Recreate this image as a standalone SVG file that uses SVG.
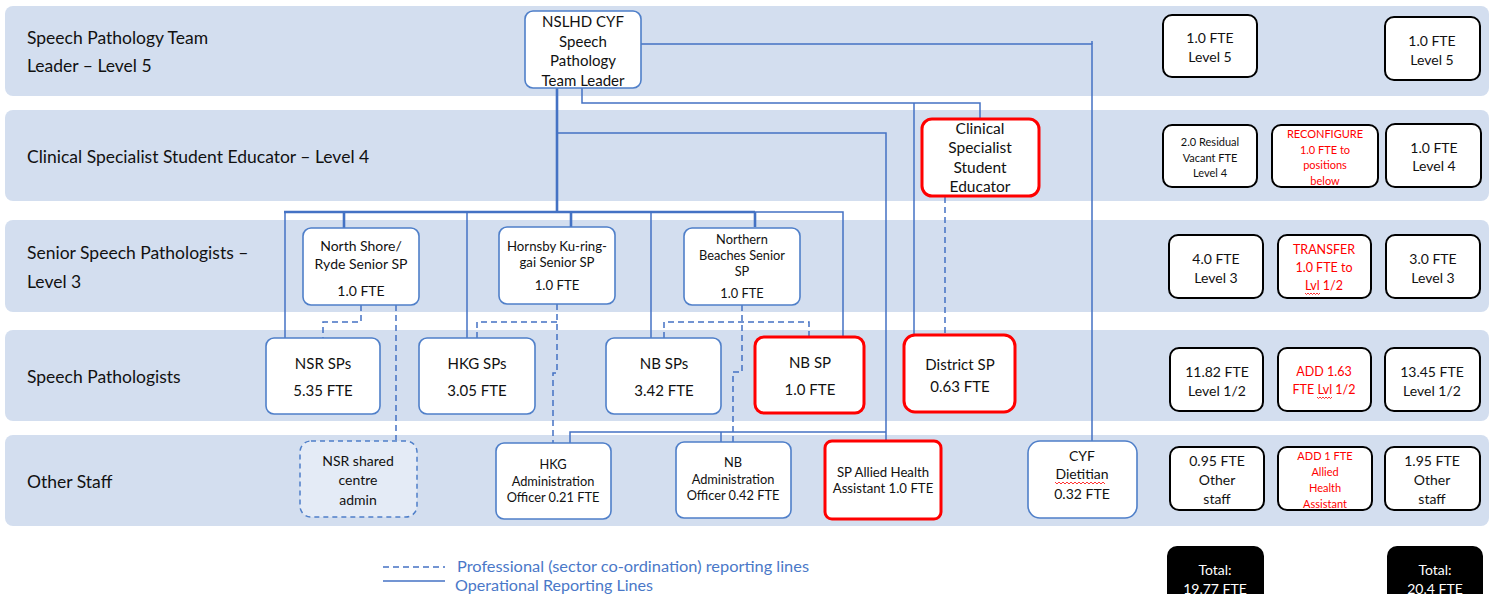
<svg xmlns="http://www.w3.org/2000/svg" width="1491" height="594" viewBox="0 0 1491 594">
<defs>
<style>
text{font-family:Lato,"Liberation Sans",sans-serif;fill:#111;dominant-baseline:central}
.band{fill:#D3DEEF}
.lbl{font-size:17.5px}
.c{text-anchor:middle}
.node{fill:#fff;stroke:#4F7FC9;stroke-width:1.6}
.red{fill:#fff;stroke:#FF0000;stroke-width:3}
.fte{fill:#fff;stroke:#000;stroke-width:2}
.tot{fill:#000}
.wt{fill:#fff}
.rt{fill:#FF0000}
.op{fill:none;stroke:#4472C4;stroke-width:1.5}
.opt{fill:none;stroke:#4472C4;stroke-width:2.6}
.pr{fill:none;stroke:#4472C4;stroke-width:1.5;stroke-dasharray:6 4}
.wavy{fill:none;stroke:#FF0000;stroke-width:0.8}
.leg{fill:#4A78C8;font-size:15.5px}
</style>
</defs>

<g id="bands">
<rect class="band" x="5" y="6" width="1484" height="90" rx="8"/>
<rect class="band" x="5" y="110" width="1484" height="91" rx="8"/>
<rect class="band" x="5" y="220" width="1484" height="92" rx="8"/>
<rect class="band" x="5" y="330" width="1484" height="91" rx="8"/>
<rect class="band" x="5" y="435" width="1484" height="91" rx="8"/>
<text class="lbl" x="27" y="37">Speech Pathology Team</text>
<text class="lbl" x="27" y="65">Leader – Level 5</text>
<text class="lbl" x="27" y="156">Clinical Specialist Student Educator – Level 4</text>
<text class="lbl" x="27" y="252">Senior Speech Pathologists –</text>
<text class="lbl" x="27" y="281">Level 3</text>
<text class="lbl" x="27" y="376">Speech Pathologists</text>
<text class="lbl" x="27" y="481">Other Staff</text>
</g>

<g id="connectors">
<path class="opt" d="M557 88 V212"/>
<path class="opt" d="M284 212 H755"/>
<path class="opt" d="M344 212 V228"/>
<path class="opt" d="M571 212 V227"/>
<path class="opt" d="M755 212 V227"/>
<path class="op" d="M755 212 H843 V336"/>
<path class="op" d="M285 211 V338"/>
<path class="op" d="M467 212 V338"/>
<path class="op" d="M651 212 V338"/>
<path class="op" d="M641 44 H1092 V441"/>
<path class="op" d="M1092 41 V44"/>
<path class="op" d="M582 88 V103 H980 V119"/>
<path class="op" d="M914 103 V335"/>
<path class="op" d="M557 133 H886 V441"/>
<path class="op" d="M886 432 H570 V443"/>
<path class="op" d="M721 432 V442"/>
<path class="pr" d="M361 305 V322 H323 V338"/>
<path class="pr" d="M396 305 V440"/>
<path class="pr" d="M557 304 V373 H553 V443"/>
<path class="pr" d="M557 322 H477 V338"/>
<path class="pr" d="M742 305 V372 H733 V442"/>
<path class="pr" d="M664 338 V322 H809 V336"/>
<path class="pr" d="M945 197 V335"/>
</g>

<g id="n-teamleader">
<rect class="node" x="525" y="11" width="116" height="77" rx="8"/>
<text class="c" x="583" y="21" font-size="15">NSLHD CYF</text>
<text class="c" x="583" y="41" font-size="15">Speech</text>
<text class="c" x="583" y="60" font-size="15">Pathology</text>
<text class="c" x="583" y="80" font-size="15">Team Leader</text>
</g>

<g id="n-clinical">
<rect class="red" x="922" y="119" width="117" height="77" rx="10"/>
<text class="c" x="980" y="128" font-size="15.5">Clinical</text>
<text class="c" x="980" y="147" font-size="15.5">Specialist</text>
<text class="c" x="980" y="167" font-size="15.5">Student</text>
<text class="c" x="980" y="186" font-size="15.5">Educator</text>
</g>

<g id="n-nsr-senior">
<rect class="node" x="303" y="228" width="116" height="77" rx="8"/>
<text class="c" x="361" y="245" font-size="14">North Shore/</text>
<text class="c" x="361" y="263" font-size="14">Ryde Senior SP</text>
<text class="c" x="361" y="290" font-size="14">1.0 FTE</text>
</g>

<g id="n-hkg-senior">
<rect class="node" x="499" y="227" width="116" height="77" rx="8"/>
<text class="c" x="557" y="246" font-size="13.2">Hornsby Ku-ring-</text>
<text class="c" x="557" y="262" font-size="13.2">gai Senior SP</text>
<text class="c" x="557" y="285" font-size="13.2">1.0 FTE</text>
</g>

<g id="n-nb-senior">
<rect class="node" x="684" y="228" width="116" height="77" rx="8"/>
<text class="c" x="742" y="239" font-size="12.8">Northern</text>
<text class="c" x="742" y="255" font-size="12.8">Beaches Senior</text>
<text class="c" x="742" y="271" font-size="12.8">SP</text>
<text class="c" x="742" y="293" font-size="12.8">1.0 FTE</text>
</g>

<g id="n-nsr-sps">
<rect class="node" x="266" y="338" width="114" height="76" rx="8"/>
<text class="c" x="323" y="363" font-size="15">NSR SPs</text>
<text class="c" x="323" y="390" font-size="15">5.35 FTE</text>
</g>

<g id="n-hkg-sps">
<rect class="node" x="419" y="338" width="116" height="76" rx="8"/>
<text class="c" x="477" y="363" font-size="15">HKG SPs</text>
<text class="c" x="477" y="390" font-size="15">3.05 FTE</text>
</g>

<g id="n-nb-sps">
<rect class="node" x="606" y="338" width="115" height="76" rx="8"/>
<text class="c" x="664" y="363" font-size="15">NB SPs</text>
<text class="c" x="664" y="390" font-size="15">3.42 FTE</text>
</g>

<g id="n-nb-sp">
<rect class="red" x="755" y="337" width="109" height="76" rx="9"/>
<text class="c" x="810" y="362" font-size="15">NB SP</text>
<text class="c" x="810" y="389" font-size="15">1.0 FTE</text>
</g>

<g id="n-district">
<rect class="red" x="904" y="335" width="111" height="77" rx="11"/>
<text class="c" x="960" y="364" font-size="15">District SP</text>
<text class="c" x="960" y="386" font-size="15">0.63 FTE</text>
</g>

<g id="n-nsr-admin">
<rect x="300" y="441" width="117" height="76" rx="11" fill="#E4EBF6" stroke="#4F7FC9" stroke-width="1.5" stroke-dasharray="5 4"/>
<text class="c" x="358" y="460" font-size="14">NSR shared</text>
<text class="c" x="358" y="479" font-size="14">centre</text>
<text class="c" x="358" y="499" font-size="14">admin</text>
</g>

<g id="n-hkg-admin">
<rect class="node" x="496" y="443" width="115" height="76" rx="8"/>
<text class="c" x="553" y="464" font-size="12.8">HKG</text>
<text class="c" x="553" y="481" font-size="12.8">Administration</text>
<text class="c" x="553" y="497" font-size="12.8">Officer 0.21 FTE</text>
</g>

<g id="n-nb-admin">
<rect class="node" x="676" y="442" width="115" height="76" rx="8"/>
<text class="c" x="733" y="462" font-size="12.8">NB</text>
<text class="c" x="733" y="479" font-size="12.8">Administration</text>
<text class="c" x="733" y="495" font-size="12.8">Officer 0.42 FTE</text>
</g>

<g id="n-aha">
<rect class="red" x="825" y="441" width="116" height="78" rx="7"/>
<text class="c" x="883" y="472" font-size="13.2">SP Allied Health</text>
<text class="c" x="883" y="488" font-size="13.2">Assistant 1.0 FTE</text>
</g>

<g id="n-dietitian">
<rect class="node" x="1028" y="441" width="109" height="77" rx="12"/>
<text class="c" x="1082" y="455" font-size="14">CYF</text>
<text class="c" x="1082" y="473" font-size="14">Dietitian</text>
<path class="wavy" d="M1055 482 l2 2 l2 -2 l2 2 l2 -2 l2 2 l2 -2 l2 2 l2 -2 l2 2 l2 -2 l2 2 l2 -2 l2 2 l2 -2 l2 2 l2 -2 l2 2 l2 -2 l2 2 l2 -2 l2 2 l2 -2 l2 2 l2 -2 l2 2"/>
<text class="c" x="1082" y="493" font-size="14">0.32 FTE</text>
</g>

<g id="fte-summary">
<rect class="fte" x="1163" y="15" width="94" height="62" rx="9"/>
<text class="c" x="1210" y="37" font-size="14">1.0 FTE</text>
<text class="c" x="1210" y="56" font-size="14">Level 5</text>
<rect class="fte" x="1385" y="17" width="95" height="63" rx="9"/>
<text class="c" x="1432" y="40" font-size="14">1.0 FTE</text>
<text class="c" x="1432" y="59" font-size="14">Level 5</text>

<rect class="fte" x="1163" y="125" width="94" height="62" rx="9"/>
<text class="c" x="1210" y="141" font-size="11">2.0 Residual</text>
<text class="c" x="1210" y="157" font-size="11">Vacant FTE</text>
<text class="c" x="1210" y="172" font-size="11">Level 4</text>
<rect class="fte" x="1272" y="125" width="106" height="62" rx="9"/>
<text class="c rt" x="1325" y="133" font-size="11">RECONFIGURE</text>
<text class="c rt" x="1325" y="149" font-size="11">1.0 FTE to</text>
<text class="c rt" x="1325" y="164" font-size="11">positions</text>
<text class="c rt" x="1325" y="180" font-size="11">below</text>
<rect class="fte" x="1386" y="124" width="95" height="63" rx="9"/>
<text class="c" x="1434" y="147" font-size="14">1.0 FTE</text>
<text class="c" x="1434" y="165" font-size="14">Level 4</text>

<rect class="fte" x="1169" y="235" width="94" height="63" rx="9"/>
<text class="c" x="1216" y="258" font-size="14">4.0 FTE</text>
<text class="c" x="1216" y="277" font-size="14">Level 3</text>
<rect class="fte" x="1278" y="235" width="93" height="63" rx="9"/>
<text class="c rt" x="1324" y="249" font-size="12.5">TRANSFER</text>
<text class="c rt" x="1324" y="267" font-size="12.5">1.0 FTE to</text>
<text class="c rt" x="1324" y="285" font-size="12.5">Lvl 1/2</text>
<path class="wavy" d="M1305 293 l1.5 1.5 l1.5 -1.5 l1.5 1.5 l1.5 -1.5 l1.5 1.5 l1.5 -1.5 l1.5 1.5 l1.5 -1.5 l1.5 1.5 l1.5 -1.5"/>
<rect class="fte" x="1386" y="235" width="94" height="63" rx="9"/>
<text class="c" x="1433" y="258" font-size="14">3.0 FTE</text>
<text class="c" x="1433" y="277" font-size="14">Level 3</text>

<rect class="fte" x="1170" y="348" width="93" height="63" rx="9"/>
<text class="c" x="1217" y="371" font-size="14">11.82 FTE</text>
<text class="c" x="1217" y="390" font-size="14">Level 1/2</text>
<rect class="fte" x="1278" y="348" width="93" height="63" rx="9"/>
<text class="c rt" x="1324" y="371" font-size="12.5">ADD 1.63</text>
<text class="c rt" x="1324" y="389" font-size="12.5">FTE Lvl 1/2</text>
<path class="wavy" d="M1317 397 l1.5 1.5 l1.5 -1.5 l1.5 1.5 l1.5 -1.5 l1.5 1.5 l1.5 -1.5 l1.5 1.5 l1.5 -1.5 l1.5 1.5 l1.5 -1.5"/>
<rect class="fte" x="1385" y="348" width="95" height="63" rx="9"/>
<text class="c" x="1432" y="371" font-size="14">13.45 FTE</text>
<text class="c" x="1432" y="390" font-size="14">Level 1/2</text>

<rect class="fte" x="1170" y="447" width="94" height="63" rx="9"/>
<text class="c" x="1217" y="460" font-size="14">0.95 FTE</text>
<text class="c" x="1217" y="479" font-size="14">Other</text>
<text class="c" x="1217" y="498" font-size="14">staff</text>
<rect class="fte" x="1278" y="447" width="94" height="63" rx="9"/>
<text class="c rt" x="1325" y="455" font-size="11">ADD 1 FTE</text>
<text class="c rt" x="1325" y="471" font-size="11">Allied</text>
<text class="c rt" x="1325" y="487" font-size="11">Health</text>
<text class="c rt" x="1325" y="503" font-size="11">Assistant</text>
<rect class="fte" x="1385" y="447" width="95" height="63" rx="9"/>
<text class="c" x="1432" y="460" font-size="14">1.95 FTE</text>
<text class="c" x="1432" y="479" font-size="14">Other</text>
<text class="c" x="1432" y="498" font-size="14">staff</text>

<rect class="tot" x="1167" y="546" width="97" height="70" rx="10"/>
<text class="c wt" x="1215" y="569" font-size="14">Total:</text>
<text class="c wt" x="1215" y="588" font-size="14">19.77 FTE</text>
<rect class="tot" x="1387" y="546" width="96" height="70" rx="10"/>
<text class="c wt" x="1435" y="569" font-size="14">Total:</text>
<text class="c wt" x="1435" y="588" font-size="14">20.4 FTE</text>
</g>

<g id="legend">
<path class="pr" d="M383 567 H445" stroke-dasharray="5 4"/>
<text class="leg" x="457" y="566" textLength="352" lengthAdjust="spacingAndGlyphs">Professional (sector co-ordination) reporting lines</text>
<path class="op" d="M383 581 H445" stroke-width="2"/>
<text class="leg" x="455" y="585" textLength="198" lengthAdjust="spacingAndGlyphs">Operational Reporting Lines</text>
</g>
</svg>
